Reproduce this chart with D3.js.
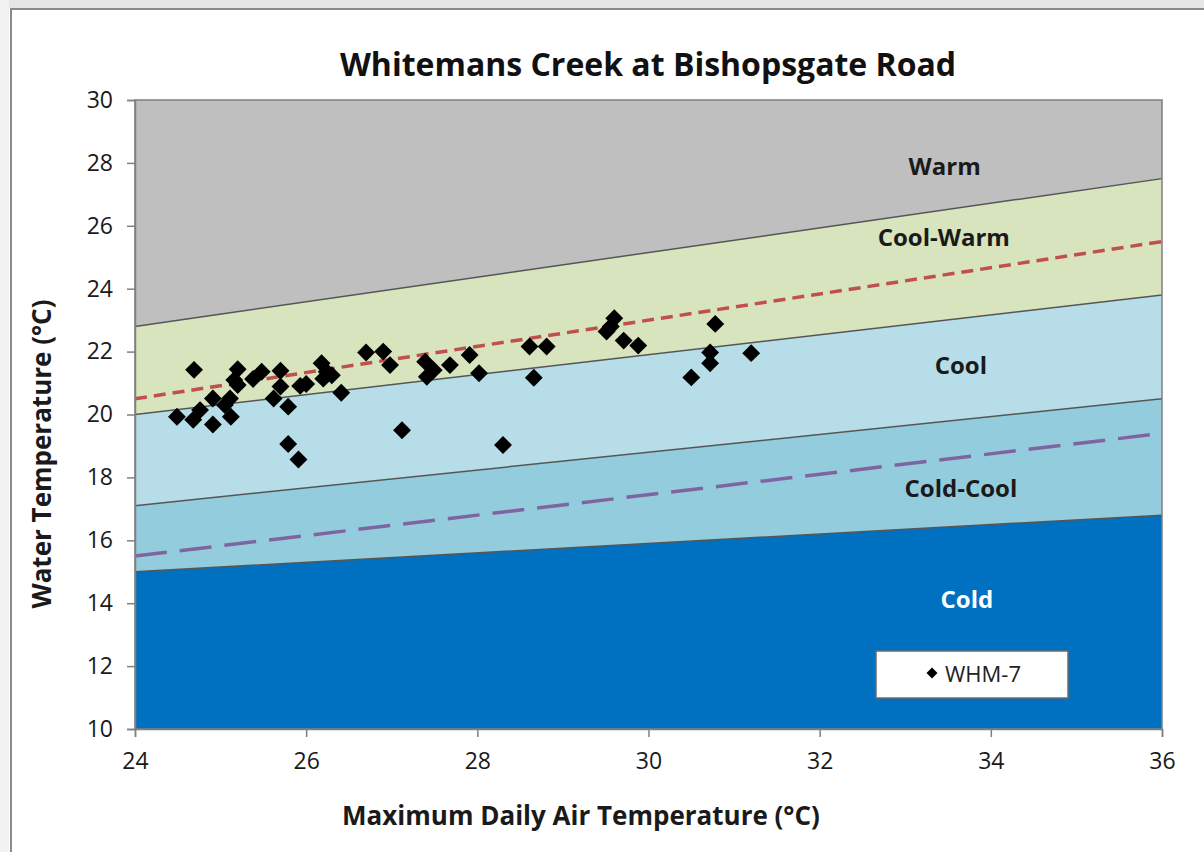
<!DOCTYPE html>
<html>
<head>
<meta charset="utf-8">
<script src="https://d3js.org/d3.v7.min.js"></script>
<style>
body { margin: 0; background: #fff; }
svg { display: block; font-family: "Open Sans", Lato, sans-serif; }
</style>
</head>
<body>
<svg id="chart" width="1204" height="852"></svg>
<script>
// zone boundaries, water temp at air temp 24 and 36
var airEnds = [24, 36];
var coldTop = [15.0, 16.8];
var coldCoolTop = [17.1, 20.5];
var coolTop = [20.0, 23.8];
var coolWarmTop = [22.8, 27.5];
var redLine = [20.5, 25.5];
var purpleLine = [15.5, 19.4];

var zoneNames = ["Cold", "Cold-Cool", "Cool", "Cool-Warm", "Warm"];
var zoneLabelPos = [[33.72, 14.1], [33.65, 17.63], [33.65, 21.57], [33.45, 25.61], [33.46, 27.87]];

var xTicks = [24, 26, 28, 30, 32, 34, 36];
var yTicks = [10, 12, 14, 16, 18, 20, 22, 24, 26, 28, 30];

// WHM-7 observations: [max air temp, water temp]
var whmAir = [24.49, 24.69, 24.68, 24.76, 24.91, 24.91, 25.11, 25.12, 25.2, 25.2,
  25.16, 25.38, 25.48, 25.62, 25.7, 25.7, 25.79, 25.79, 25.91, 25.93,
  26.0, 26.18, 26.24, 26.2, 26.3, 26.41, 26.7, 26.9, 26.98, 27.12,
  27.39, 27.41, 27.49, 27.68, 27.91, 28.02, 28.3, 28.61, 28.81, 28.66,
  29.51, 29.6, 29.56, 29.71, 29.88, 30.5, 30.78, 30.72, 30.72, 31.2, 25.05];
var whmWater = [19.93, 21.42, 19.83, 20.14, 20.51, 19.68, 20.51, 19.93, 21.44, 20.94,
  21.1, 21.13, 21.36, 20.51, 21.39, 20.89, 20.25, 19.06, 18.57, 20.91,
  20.97, 21.63, 21.36, 21.14, 21.25, 20.69, 21.97, 22.0, 21.57, 19.5,
  21.68, 21.2, 21.41, 21.57, 21.89, 21.31, 19.03, 22.16, 22.16, 21.17,
  22.64, 23.06, 22.8, 22.35, 22.19, 21.18, 22.88, 21.97, 21.63, 21.95, 20.3];

var svg = d3.select("#chart");
var plotL = 135, plotR = 1162, plotT = 100, plotB = 729;

var x = d3.scaleLinear().domain([24, 36]).range([plotL, plotR]);
var y = d3.scaleLinear().domain([10, 30]).range([plotB, plotT]);

// spreadsheet frame bits
svg.append("rect").attr("x", 0).attr("y", 0).attr("width", 1204).attr("height", 8).attr("fill", "#e6e6e6");
svg.append("rect").attr("x", 0).attr("y", 0).attr("width", 9).attr("height", 852).attr("fill", "#f2f2f2");
svg.append("line").attr("x1", 10).attr("x2", 1204).attr("y1", 9).attr("y2", 9).attr("stroke", "#8a8a8a").attr("stroke-width", 2);
svg.append("line").attr("x1", 11).attr("x2", 11).attr("y1", 9).attr("y2", 852).attr("stroke", "#8a8a8a").attr("stroke-width", 2);

var lower = [[10, 10], coldTop, coldCoolTop, coolTop, coolWarmTop];
var upper = [coldTop, coldCoolTop, coolTop, coolWarmTop, [30, 30]];
var zoneColors = ["#0070c0", "#93cddd", "#b7dee8", "#d7e4bd", "#bfbfbf"];

var area = d3.area()
  .x(function(d) { return x(d[0]); })
  .y0(function(d) { return y(d[1]); })
  .y1(function(d) { return y(d[2]); });

zoneNames.forEach(function(name, i) {
  var pts = airEnds.map(function(a, j) { return [a, lower[i][j], upper[i][j]]; });
  svg.append("path").attr("d", area(pts)).attr("fill", zoneColors[i]);
});

var line = d3.line().x(function(d) { return x(d[0]); }).y(function(d) { return y(d[1]); });
function ends(v) { return airEnds.map(function(a, j) { return [a, v[j]]; }); }

[coldTop, coldCoolTop, coolTop, coolWarmTop].forEach(function(b) {
  svg.append("path").attr("d", line(ends(b))).attr("fill", "none")
    .attr("stroke", "#555").attr("stroke-width", 1.5);
});

svg.append("path").attr("d", line(ends(redLine))).attr("fill", "none")
  .attr("stroke", "#c0504d").attr("stroke-width", 3.5).attr("stroke-dasharray", "12,7");
svg.append("path").attr("d", line(ends(purpleLine))).attr("fill", "none")
  .attr("stroke", "#8064a2").attr("stroke-width", 3.5).attr("stroke-dasharray", "32,13");

// plot border
svg.append("rect").attr("x", plotL).attr("y", plotT).attr("width", plotR - plotL).attr("height", plotB - plotT)
  .attr("fill", "none").attr("stroke", "#7f7f7f").attr("stroke-width", 1.5);

// zone labels
zoneNames.forEach(function(name, i) {
  svg.append("text").attr("x", x(zoneLabelPos[i][0])).attr("y", y(zoneLabelPos[i][1]))
    .attr("dy", "0.35em")
    .attr("text-anchor", "middle").attr("font-size", 24).attr("font-weight", "bold")
    .attr("fill", name == "Cold" ? "#fff" : "#1a1a1a").text(name);
});

// points
var diamond = d3.symbol().type(d3.symbolSquare).size(160);
whmAir.forEach(function(a, i) {
  svg.append("path").attr("d", diamond())
    .attr("transform", "translate(" + x(a) + "," + y(whmWater[i]) + ") rotate(45)")
    .attr("fill", "#000");
});

// axes
var xAxis = d3.axisBottom(x).tickValues(xTicks).tickSize(8).tickPadding(12).tickFormat(d3.format("d"));
var yAxis = d3.axisLeft(y).tickValues(yTicks).tickSize(8).tickPadding(14).tickFormat(d3.format("d"));
var gx = svg.append("g").attr("transform", "translate(0," + plotB + ")").call(xAxis);
var gy = svg.append("g").attr("transform", "translate(" + plotL + ",0)").call(yAxis);
[gx, gy].forEach(function(g) {
  g.select(".domain").attr("stroke", "#7f7f7f").attr("stroke-width", 1.5);
  g.selectAll(".tick line").attr("stroke", "#7f7f7f").attr("stroke-width", 1.5);
  g.selectAll(".tick text").attr("font-size", 23).attr("fill", "#1a1a1a").attr("font-family", "'Open Sans', sans-serif");
});
gx.selectAll(".tick text").attr("dy", "0.85em");

// titles
svg.append("text").attr("x", 648).attr("y", 76).attr("text-anchor", "middle")
  .attr("font-size", 32).attr("font-weight", "bold").attr("fill", "#111")
  .text("Whitemans Creek at Bishopsgate Road");
svg.append("text").attr("x", 581).attr("y", 825).attr("text-anchor", "middle")
  .attr("font-size", 26).attr("font-weight", "bold").attr("fill", "#1a1a1a")
  .text("Maximum Daily Air Temperature (°C)");
svg.append("text").attr("transform", "translate(51,454) rotate(-90)").attr("text-anchor", "middle")
  .attr("font-size", 26).attr("font-weight", "bold").attr("fill", "#1a1a1a")
  .text("Water Temperature (°C)");

// legend
svg.append("rect").attr("x", 876).attr("y", 651).attr("width", 192).attr("height", 47)
  .attr("fill", "#fff").attr("stroke", "#6b6b6b").attr("stroke-width", 1.5);
svg.append("path").attr("d", d3.symbol().type(d3.symbolSquare).size(60)())
  .attr("transform", "translate(932,673) rotate(45)").attr("fill", "#000");
svg.append("text").attr("x", 945).attr("y", 682).attr("font-size", 22).attr("fill", "#222").text("WHM-7");
</script>
</body>
</html>
